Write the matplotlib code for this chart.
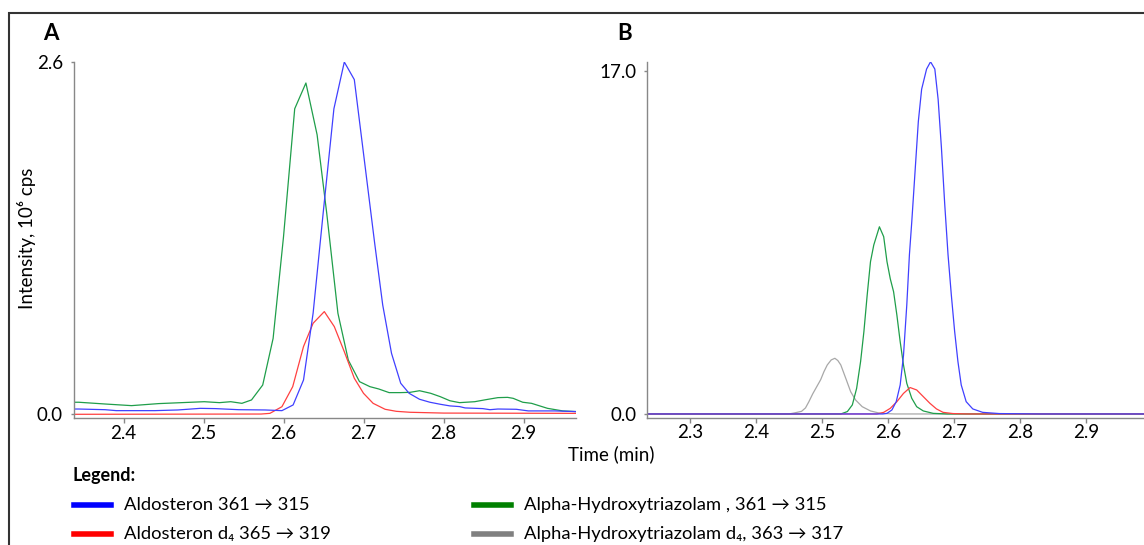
import matplotlib
matplotlib.use("Agg")
import matplotlib.pyplot as plt
from matplotlib.lines import Line2D
from matplotlib.patches import Rectangle

plt.rcParams['font.family'] = ['Lato', 'DejaVu Sans']

# Panel A: chromatogram (intensity in 10^6 cps)
a_green_t = [2.337, 2.344, 2.377, 2.41, 2.444, 2.501, 2.52, 2.534, 2.548, 2.56, 2.574, 2.587,
             2.600, 2.614, 2.628, 2.642, 2.654, 2.668, 2.681, 2.695, 2.708, 2.719, 2.732,
             2.746, 2.758, 2.77, 2.784, 2.796, 2.808, 2.82, 2.839, 2.853, 2.868, 2.88,
             2.887, 2.899, 2.91, 2.93, 2.949, 2.966]
a_green_v = [0.089, 0.089, 0.076, 0.064, 0.079, 0.093, 0.086, 0.093, 0.081, 0.106, 0.216, 0.56,
             1.31, 2.255, 2.445, 2.063, 1.485, 0.746, 0.40, 0.241, 0.204, 0.187, 0.16,
             0.16, 0.162, 0.174, 0.155, 0.13, 0.10, 0.086, 0.093, 0.108, 0.123, 0.125,
             0.118, 0.089, 0.081, 0.044, 0.025, 0.02]

a_blue_t = [2.337, 2.344, 2.377, 2.391, 2.439, 2.468, 2.496, 2.515, 2.544, 2.577, 2.598, 2.612,
            2.625, 2.637, 2.650, 2.663, 2.676, 2.6885, 2.702, 2.714, 2.724, 2.735, 2.7465,
            2.757, 2.770, 2.783, 2.796, 2.808, 2.82, 2.827, 2.849, 2.858, 2.868, 2.891,
            2.906, 2.939, 2.966]
a_blue_v = [0.039, 0.039, 0.034, 0.027, 0.027, 0.032, 0.044, 0.042, 0.034, 0.032, 0.027, 0.069,
            0.253, 0.746, 1.51, 2.255, 2.6, 2.47, 1.83, 1.26, 0.807, 0.45, 0.229,
            0.155, 0.111, 0.089, 0.074, 0.062, 0.057, 0.047, 0.042, 0.034, 0.039, 0.037,
            0.025, 0.025, 0.02]

a_red_t = [2.337, 2.572, 2.583, 2.598, 2.6115, 2.625, 2.637, 2.651, 2.6635, 2.676, 2.6885,
           2.700, 2.712, 2.727, 2.741, 2.758, 2.80, 2.966]
a_red_v = [0.0, 0.002, 0.007, 0.056, 0.204, 0.5, 0.672, 0.758, 0.647, 0.462, 0.266,
           0.155, 0.081, 0.037, 0.022, 0.015, 0.009, 0.007]

# Panel B
b_gray_t = [2.235, 2.45, 2.458, 2.469, 2.475, 2.48, 2.486, 2.492, 2.498, 2.503, 2.508, 2.514,
            2.5195, 2.524, 2.5285, 2.536, 2.5435, 2.551, 2.561, 2.5735, 2.5885, 2.61, 2.99]
b_gray_v = [0, 0, 0.05, 0.13, 0.3, 0.6, 1.0, 1.35, 1.7, 2.1, 2.43, 2.68,
            2.76, 2.65, 2.43, 1.77, 1.1, 0.69, 0.36, 0.15, 0.03, 0, 0]

b_green_t = [2.235, 2.5285, 2.5385, 2.546, 2.5525, 2.5585, 2.5635, 2.5685, 2.5735, 2.5785,
             2.587, 2.5935, 2.5985, 2.6035, 2.6085, 2.6135, 2.6185, 2.6235, 2.6285, 2.636,
             2.6435, 2.6535, 2.6685, 2.69, 2.99]
b_green_v = [0, 0, 0.12, 0.45, 1.27, 2.6, 4.08, 5.9, 7.55, 8.38,
             9.28, 8.79, 7.55, 6.7, 6.06, 4.9, 3.58, 2.43, 1.52, 0.78,
             0.36, 0.15, 0.03, 0, 0]

b_red_t = [2.235, 2.583, 2.5935, 2.6035, 2.6135, 2.6235, 2.6335, 2.6435, 2.6535, 2.6635,
           2.6735, 2.6835, 2.6985, 2.72, 2.99]
b_red_v = [0, 0, 0.08, 0.28, 0.61, 1.02, 1.31, 1.19, 0.86, 0.53,
           0.25, 0.08, 0.02, 0, 0]

b_blue_t = [2.235, 2.592, 2.5985, 2.606, 2.6125, 2.6185, 2.6235, 2.6285, 2.6325, 2.636, 2.641,
            2.646, 2.651, 2.6585, 2.6645, 2.671, 2.676, 2.681, 2.686, 2.691, 2.696, 2.701,
            2.706, 2.711, 2.7185, 2.7285, 2.7435, 2.7685, 2.80, 2.83, 2.99]
b_blue_v = [0, 0, 0.03, 0.2, 0.61, 1.44, 2.9, 5.4, 7.9, 9.5, 12.0,
            14.5, 16.1, 17.1, 17.46, 17.1, 15.6, 13.2, 10.4, 7.9, 5.9, 4.1,
            2.6, 1.44, 0.61, 0.25, 0.08, 0.02, 0.01, 0, 0]

a_xticks = [2.4, 2.5, 2.6, 2.7, 2.8, 2.9]
b_xticks = [2.3, 2.4, 2.5, 2.6, 2.7, 2.8, 2.9]

legend_labels = ['Aldosteron 361 \u2192 315', 'Aldosteron d\u2084 365 \u2192 319',
                 'Alpha-Hydroxytriazolam , 361 \u2192 315',
                 'Alpha-Hydroxytriazolam d\u2084, 363 \u2192 317']
legend_colors = ['#0000ff', '#ff0000', '#008000', '#808080']

c_blue, c_red, c_green, c_gray = '#4040ff', '#ff4040', '#1f9e4a', '#a8a8a8'

W, H = 1144, 545
fig = plt.figure(figsize=(W / 100, H / 100), dpi=100)

def px(x, y):
    return x / W, 1 - y / H

axA = fig.add_axes([73.5 / W, 1 - 418.3 / H, 502.5 / W, 356.3 / H])
axB = fig.add_axes([647 / W, 1 - 418 / H, 497 / W, 356 / H])

lw = 0.9
axA.plot(a_green_t, a_green_v, color=c_green, lw=lw)
axA.plot(a_red_t, a_red_v, color=c_red, lw=lw)
axA.plot(a_blue_t, a_blue_v, color=c_blue, lw=lw)
axA.set_xlim(2.3375, 2.9656)
axA.set_ylim(-0.0295, 2.6)
axA.set_yticks([0.0, 2.6])
axA.set_xticks(a_xticks)

axB.plot(b_gray_t, b_gray_v, color=c_gray, lw=lw)
axB.plot(b_green_t, b_green_v, color=c_green, lw=lw)
axB.plot(b_red_t, b_red_v, color=c_red, lw=lw)
axB.plot(b_blue_t, b_blue_v, color=c_blue, lw=lw)
axB.set_xlim(2.2348, 2.988)
axB.set_ylim(-0.2, 17.45)
axB.set_yticks([0.0, 17.0])
axB.set_xticks(b_xticks)

for ax in (axA, axB):
    ax.spines['top'].set_visible(False)
    ax.spines['right'].set_visible(False)
    for s in ('left', 'bottom'):
        ax.spines[s].set_color('#888888')
        ax.spines[s].set_linewidth(1.0)
    ax.set_xticklabels([f'{t:.1f}' for t in ax.get_xticks()])
    ax.set_yticklabels([f'{t:.1f}' for t in ax.get_yticks()])
    ax.tick_params(axis='x', length=3.5, width=1, color='#888888', pad=1, labelsize=13.5)
    ax.tick_params(axis='y', length=2.5, width=1, color='#888888', pad=5, labelsize=13.5)
    ax.patch.set_visible(False)

fig.text(*px(51, 34), 'A', fontsize=16, fontweight='bold', ha='center', va='center')
fig.text(*px(625, 34), 'B', fontsize=16, fontweight='bold', ha='center', va='center')
fig.text(*px(27, 238), 'Intensity, 10\u2076 cps', fontsize=13.5, rotation=90,
         ha='center', va='center')
fig.text(*px(611, 454), 'Time (min)', fontsize=13.5, ha='center', va='center')

# legend
fig.text(*px(73, 475), 'Legend:', fontsize=13, fontweight='bold', ha='left', va='center')
rows = [505, 534]
cols = [(74, 111, 124), (474, 511, 524)]
for i, (lab, col) in enumerate(zip(legend_labels, legend_colors)):
    c = cols[i // 2]
    y = rows[i % 2]
    x0, y0 = px(c[0], y)
    x1, _ = px(c[1], y)
    fig.add_artist(Line2D([x0, x1], [y0, y0], color=col, lw=4, transform=fig.transFigure))
    fig.text(*px(c[2], y), lab, fontsize=13.2, ha='left', va='center')

# outer frame
fx, fy = px(9, 13)
fig.add_artist(Rectangle((fx, -0.1), 1.2, fy + 0.1, transform=fig.transFigure,
                         fill=False, edgecolor='#333333', lw=1.5))

fig.savefig('out.png', dpi=100)
